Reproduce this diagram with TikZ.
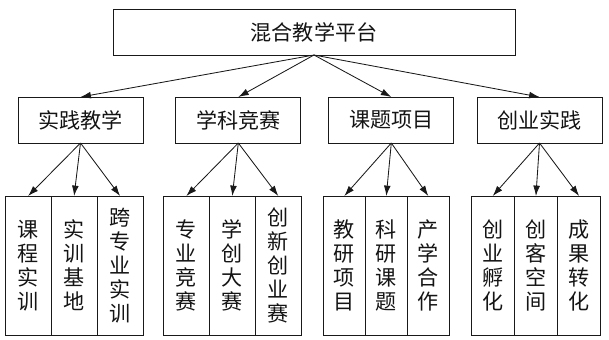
\documentclass[tikz,border=0pt]{standalone}
\usepackage{fontspec}
\usepackage{tikz}
\usetikzlibrary{arrows.meta, positioning}
\newfontfamily\cjk{Noto Sans CJK SC}
\definecolor{colLine}{RGB}{25,25,25}
\definecolor{colText}{RGB}{20,20,20}

\begin{document}
\begin{tikzpicture}[
            font=\cjk\fontsize{15}{17}\selectfont,
            box/.style={rectangle, minimum width=3.125cm, minimum height=1.15cm, text centered, draw=colLine, line width=0.6pt, outer sep=0pt, text=colText},
            cell/.style={rectangle, minimum width=1.15cm, minimum height=3.475cm, inner sep=0pt, align=center, draw=colLine, line width=0.6pt, outer sep=0pt, text=colText},
            arrow/.style={-{Latex[length=2.6mm, width=1.7mm]}, line width=0.6pt, colLine}
        ]

        \useasboundingbox (0,0) rectangle (15.225,-8.475);

        %% ── LIGNE 0 : PLATEFORME ──────────────────────────
        \node[box, minimum width=10.05cm] (platform) at (7.85,-0.8) {混合教学平台};

        %% ── LIGNE 1 : QUATRE VOLETS ──────────────────────────
        \node[box] (practice) at (2.0125,-3.0) {实践教学};
        \node[box, right=0.82cm of practice] (contest) {学科竞赛};
        \node[box, right=0.7cm of contest] (project) {课题项目};
        \node[box, right=0.58cm of project] (startup) {创业实践};

        %% ── LIGNE 2 : CASES VERTICALES ───────────────────────
        % Bloc 1 : 实践教学
        \node[cell, below=1.325cm of practice, xshift=-0.16cm] (train_base) {实\\训\\基\\地};
        \node[cell, left=0cm of train_base] (course_train) {课\\程\\实\\训};
        \node[cell, right=0cm of train_base] (cross_train) {跨\\专\\业\\实\\训};

        % Bloc 2 : 学科竞赛
        \node[cell, below=1.325cm of contest, xshift=-0.15cm] (sci_contest) {学\\创\\大\\赛};
        \node[cell, left=0cm of sci_contest] (major_contest) {专\\业\\竞\\赛};
        \node[cell, right=0cm of sci_contest] (startup_contest) {创\\新\\创\\业\\赛};

        % Bloc 3 : 课题项目
        \node[cell, minimum width=1.05cm, below=1.325cm of project, xshift=-0.125cm] (research_topic) {科\\研\\课\\题};
        \node[cell, minimum width=1.05cm, left=0cm of research_topic] (teach_project) {教\\研\\项\\目};
        \node[cell, minimum width=1.05cm, right=0cm of research_topic] (industry_coop) {产\\学\\合\\作};

        % Bloc 4 : 创业实践
        \node[cell, minimum width=1.08cm, below=1.325cm of startup, xshift=-0.09cm] (maker_space) {创\\客\\空\\间};
        \node[cell, minimum width=1.08cm, left=0cm of maker_space] (incubation) {创\\业\\孵\\化};
        \node[cell, minimum width=1.08cm, right=0cm of maker_space] (transfer) {成\\果\\转\\化};

        %% ── FLÈCHES ──────────────────────────────────────────
        \draw[arrow] (platform.south) -- (practice.north);
        \draw[arrow] (platform.south) -- (contest.north);
        \draw[arrow] (platform.south) -- (project.north);
        \draw[arrow] (platform.south) -- (startup.north);

        \draw[arrow] (practice.south) -- (course_train.north);
        \draw[arrow] (practice.south) -- (train_base.north);
        \draw[arrow] (practice.south) -- (cross_train.north);

        \draw[arrow] (contest.south) -- (major_contest.north);
        \draw[arrow] (contest.south) -- (sci_contest.north);
        \draw[arrow] (contest.south) -- (startup_contest.north);

        \draw[arrow] (project.south) -- (teach_project.north);
        \draw[arrow] (project.south) -- (research_topic.north);
        \draw[arrow] (project.south) -- (industry_coop.north);

        \draw[arrow] (startup.south) -- (incubation.north);
        \draw[arrow] (startup.south) -- (maker_space.north);
        \draw[arrow] (startup.south) -- (transfer.north);

\end{tikzpicture}
\end{document}
